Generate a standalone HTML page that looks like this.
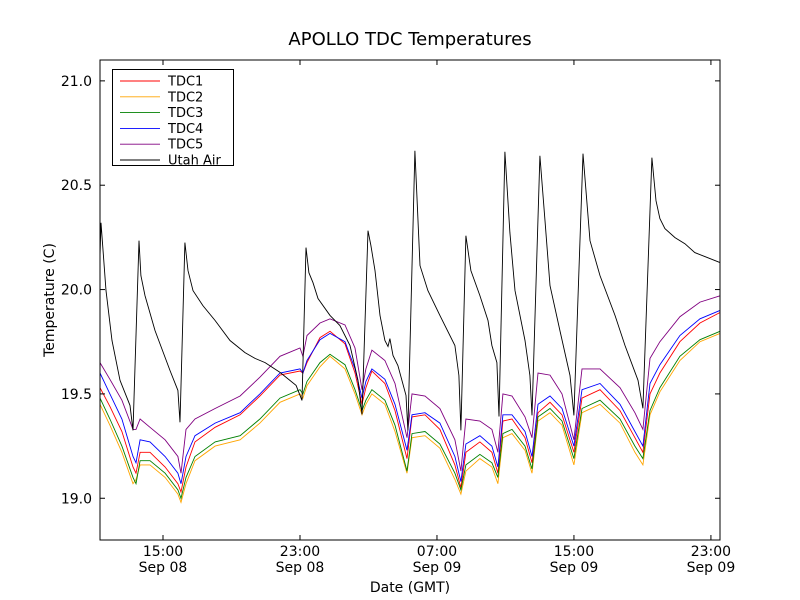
<!DOCTYPE html>
<html><head><meta charset="utf-8"><style>
body{margin:0;background:#fff}
svg{display:block;font-family:"DejaVu Sans","Liberation Sans",sans-serif}
</style></head><body>
<svg id="chart" width="800" height="600">
<rect width="800" height="600" fill="#fff"/>
<text x="410" y="45" font-size="18" text-anchor="middle">APOLLO TDC Temperatures</text>
<g id="plot"></g>
<g id="axes"></g>
<text x="410" y="592" font-size="14" text-anchor="middle">Date (GMT)</text>
<text transform="translate(54,300) rotate(-90)" font-size="14" text-anchor="middle">Temperature (C)</text>
<g id="legend"></g>
</svg>
<script>
const tdcTimes=[11.32,11.90,12.60,13.25,13.42,13.66,14.24,15.12,15.87,16.05,16.34,16.87,18.04,19.50,20.66,21.83,23.00,23.17,23.41,24.17,24.75,25.63,26.21,26.62,26.85,27.20,27.96,28.55,29.25,29.54,30.30,31.17,32.05,32.40,32.69,33.51,34.21,34.56,34.85,35.38,36.14,36.55,36.90,37.60,38.30,39.00,39.47,40.52,41.69,42.56,43.03,43.44,44.02,45.19,46.36,47.53];
const tdc1=[19.53,19.44,19.32,19.15,19.12,19.22,19.22,19.15,19.07,19.03,19.15,19.27,19.34,19.40,19.49,19.59,19.61,19.60,19.65,19.77,19.80,19.74,19.60,19.45,19.53,19.61,19.55,19.42,19.19,19.39,19.40,19.33,19.16,19.05,19.22,19.27,19.22,19.12,19.37,19.38,19.29,19.17,19.41,19.46,19.40,19.22,19.48,19.52,19.42,19.29,19.22,19.50,19.60,19.75,19.84,19.89];
const tdc2=[19.45,19.35,19.22,19.07,19.09,19.16,19.16,19.10,19.02,18.98,19.07,19.18,19.25,19.28,19.36,19.46,19.50,19.48,19.54,19.63,19.68,19.62,19.50,19.40,19.45,19.50,19.45,19.32,19.12,19.29,19.30,19.24,19.09,19.02,19.13,19.19,19.15,19.07,19.29,19.31,19.23,19.12,19.37,19.41,19.35,19.16,19.41,19.45,19.36,19.22,19.16,19.40,19.51,19.66,19.75,19.79];
const tdc3=[19.48,19.38,19.25,19.10,19.07,19.18,19.18,19.12,19.04,19.00,19.10,19.20,19.27,19.30,19.38,19.48,19.52,19.50,19.56,19.65,19.69,19.64,19.52,19.42,19.47,19.52,19.47,19.35,19.13,19.31,19.32,19.26,19.12,19.04,19.16,19.21,19.17,19.10,19.31,19.33,19.25,19.14,19.39,19.43,19.37,19.19,19.43,19.47,19.38,19.25,19.19,19.42,19.53,19.68,19.76,19.80];
const tdc4=[19.60,19.50,19.38,19.20,19.17,19.28,19.27,19.20,19.12,19.07,19.20,19.30,19.36,19.41,19.50,19.60,19.62,19.60,19.66,19.76,19.79,19.75,19.62,19.48,19.56,19.62,19.57,19.45,19.23,19.40,19.41,19.36,19.20,19.08,19.26,19.30,19.25,19.15,19.40,19.40,19.32,19.20,19.45,19.49,19.43,19.25,19.52,19.55,19.45,19.32,19.25,19.55,19.64,19.78,19.86,19.90];
const tdc5=[19.65,19.57,19.47,19.33,19.33,19.38,19.34,19.28,19.20,19.12,19.33,19.38,19.43,19.49,19.58,19.68,19.72,19.68,19.78,19.84,19.86,19.83,19.72,19.52,19.62,19.71,19.66,19.55,19.29,19.50,19.49,19.43,19.28,19.13,19.38,19.37,19.33,19.22,19.50,19.49,19.39,19.29,19.60,19.59,19.50,19.28,19.62,19.62,19.53,19.41,19.33,19.67,19.75,19.87,19.94,19.97];
const airTimes=[11.32,11.38,11.67,12.02,12.49,13.07,13.25,13.60,13.71,13.95,14.53,15.41,15.87,15.99,16.28,16.46,16.75,17.33,18.04,18.91,19.79,20.37,20.96,21.83,22.77,23.12,23.35,23.52,23.76,24.05,24.75,25.33,25.92,26.39,26.62,26.97,27.14,27.38,27.67,27.96,28.14,28.25,28.43,28.72,29.19,29.30,29.71,30.01,30.47,31.17,32.05,32.28,32.40,32.69,32.98,33.51,33.98,34.21,34.50,34.62,34.97,35.26,35.56,36.14,36.43,36.55,37.01,37.31,37.60,38.18,38.77,39.00,39.53,39.94,40.52,41.40,41.98,42.74,43.03,43.55,43.79,44.02,44.31,44.90,45.48,46.06,46.65,47.53];
const airVals=[20.16,20.32,19.995,19.756,19.565,19.445,19.325,20.234,20.067,19.971,19.804,19.612,19.517,19.364,20.225,20.091,19.995,19.923,19.852,19.756,19.698,19.670,19.650,19.603,19.541,19.469,20.201,20.081,20.033,19.957,19.876,19.828,19.732,19.565,19.402,20.282,20.211,20.091,19.876,19.756,19.727,19.765,19.684,19.636,19.493,19.325,20.665,20.115,19.995,19.876,19.732,19.588,19.325,20.258,20.091,19.971,19.852,19.732,19.65,19.392,20.660,20.273,19.995,19.756,19.588,19.397,20.641,20.330,20.019,19.804,19.588,19.397,20.651,20.234,20.067,19.876,19.732,19.565,19.431,20.632,20.426,20.340,20.292,20.249,20.220,20.177,20.158,20.129];
const yTicks=[19.0,19.5,20.0,20.5,21.0];
const xTicks=[15,23,31,39,47];
const xTickTop=["15:00","23:00","07:00","15:00","23:00"];
const xTickBot=["Sep 08","Sep 08","Sep 09","Sep 09","Sep 09"];
const seriesNames=["TDC1","TDC2","TDC3","TDC4","TDC5","Utah Air"];
const seriesColors=["red","orange","green","blue","purple","black"];

const L=100,R=720,T=60,B=540,h0=11.32,h1=47.53,v0=18.8,v1=21.1;
const xs=h=>L+(h-h0)/(h1-h0)*(R-L);
const ys=v=>B-(v-v0)/(v1-v0)*(B-T);
const NS="http://www.w3.org/2000/svg";
function mk(tag,attrs,parent){const e=document.createElementNS(NS,tag);for(const k in attrs)e.setAttribute(k,attrs[k]);parent.appendChild(e);return e;}
const plot=document.getElementById('plot'),axes=document.getElementById('axes'),leg=document.getElementById('legend');
const tdcs=[tdc1,tdc2,tdc3,tdc4,tdc5];
tdcs.forEach((vals,i)=>{
  const pts=tdcTimes.map((t,j)=>xs(t).toFixed(1)+","+ys(vals[j]).toFixed(1)).join(" ");
  const p=mk('polyline',{points:pts,fill:'none',stroke:seriesColors[i],'stroke-width':0.9},plot);
  
  
});
const ap=mk('polyline',{points:airTimes.map((t,j)=>xs(t).toFixed(1)+","+ys(airVals[j]).toFixed(1)).join(" "),fill:'none',stroke:'black','stroke-width':0.9},plot);


const frame=mk('rect',{x:L,y:T,width:R-L,height:B-T,fill:'none',stroke:'#000','stroke-width':1},axes);


yTicks.forEach(v=>{
  const y=ys(v);
  mk('line',{x1:L,x2:L+5,y1:y,y2:y,stroke:'#000'},axes);
  mk('line',{x1:R,x2:R-5,y1:y,y2:y,stroke:'#000'},axes);
  const t=mk('text',{x:L-8,y:y+5,'font-size':14,'text-anchor':'end'},axes);
  t.textContent=v.toFixed(1);
  
  
});
xTicks.forEach((h,i)=>{
  const x=xs(h);
  mk('line',{x1:x,x2:x,y1:B,y2:B-5,stroke:'#000'},axes);
  mk('line',{x1:x,x2:x,y1:T,y2:T+5,stroke:'#000'},axes);
  const t=mk('text',{x:x,y:556,'font-size':14,'text-anchor':'middle'},axes);
  t.textContent=xTickTop[i];
  
  
  const t2=mk('text',{x:x,y:572,'font-size':14,'text-anchor':'middle'},axes);
  t2.textContent=xTickBot[i];
  
  
});
const lb=mk('rect',{x:112.5,y:69.5,width:121,height:96,fill:'#fff',stroke:'#000'},leg);


seriesNames.forEach((n,i)=>{
  const y=81+i*15.8;
  const g=mk('g',{},leg);
  
  
  mk('line',{x1:120,x2:160,y1:y,y2:y,stroke:seriesColors[i],'stroke-width':0.9},g);
  const t=mk('text',{x:168,y:y+4.5,'font-size':13},g);
  t.textContent=n;
});
</script>
</body></html>
